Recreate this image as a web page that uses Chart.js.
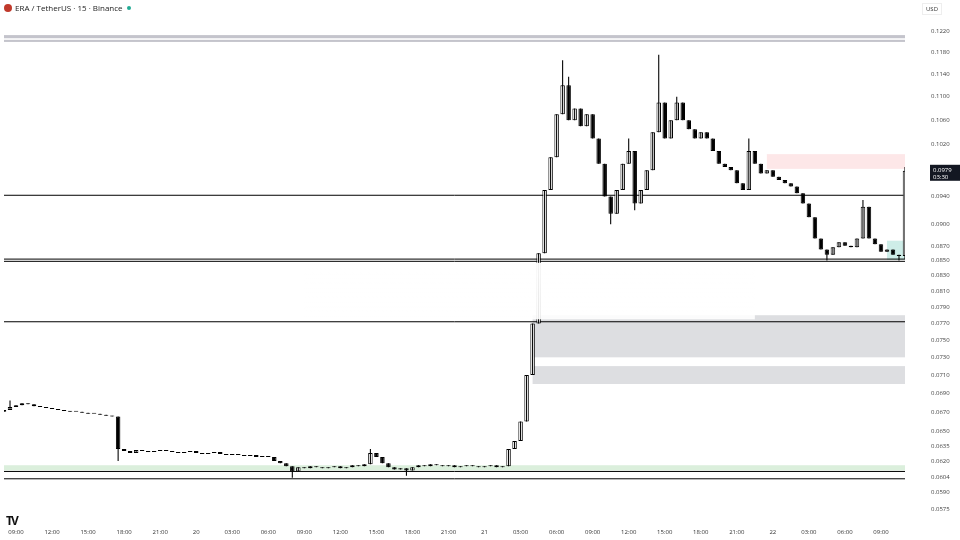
<!DOCTYPE html>
<html>
<head>
<meta charset="utf-8">
<script src="https://cdn.jsdelivr.net/npm/chart.js@4"></script>
<style>
  body { margin: 0; background: #fff; font-family: "Open Sans", sans-serif; }
  #wrap { position: relative; width: 960px; height: 540px; }
  #title { position: absolute; left: 4px; top: 2px; font-size: 8px; color: #222; }
  #title span.dot { display: inline-block; width: 8px; height: 8px; border-radius: 4px; background: #c0392b; vertical-align: -1px; margin-right: 3px; }
  #title span.live { display: inline-block; width: 4px; height: 4px; border-radius: 2px; background: #22ab94; margin-left: 4px; vertical-align: 1px; }
  #usd { position: absolute; right: 18px; top: 3px; font-size: 6px; color: #333; border: 1px solid #eee; padding: 1px 3px; }
  #logo { position: absolute; left: 6px; top: 512px; font-size: 12px; font-weight: bold; color: #111; letter-spacing: -2px; }
</style>
</head>
<body>
<div id="wrap">
  <canvas id="myChart" width="960" height="540"></canvas>
  <div id="title"><span class="dot"></span>ERA / TetherUS · 15 · Binance<span class="live"></span></div>
  <div id="usd">USD</div>
  <div id="logo">TV</div>
</div>
<script>
// 30-minute candles, close prices
const closes = [
  0.0672,0.0675,0.0677,0.0679,0.0678,0.0676,0.0675,0.0674,0.0673,0.0672,0.0671,0.0670,0.0670,0.0669,0.0668,0.0668,0.0667,0.0666,0.0665,
  0.0632,
  0.0630,0.0628,0.0631,0.0630,0.0629,0.0630,0.0631,0.0630,0.0629,0.0628,0.0629,0.0630,0.0628,0.0627,0.0628,0.0629,0.0627,0.0626,0.0627,0.0626,0.0625,0.0626,0.0624,0.0625,0.0624,
  0.0620,0.0618,0.0615,0.0610,
  0.0614,0.0613,0.0615,0.0614,0.0613,0.0614,0.0615,0.0613,0.0614,0.0616,0.0615,0.0617,
  0.0628,0.0624,0.0618,
  0.0614,0.0612,0.0613,0.0611,0.0614,0.0616,0.0615,0.0617,0.0616,0.0615,0.0616,0.0614,0.0615,0.0616,0.0615,0.0614,0.0615,0.0616,0.0614,0.0615,
  0.0632,0.0640,0.0660,0.0710,0.0770,0.0860,0.0950,0.1000,0.1070,0.1120,
  0.1060,0.1080,0.1050,0.1070,0.1030,0.0990,0.0940,0.0915,0.0950,0.0990,
  0.1010,0.0930,0.0950,0.0980,0.1040,0.1090,0.1030,0.1060,0.1090,0.1060,
  0.1045,0.1030,0.1040,0.1030,0.1010,0.0990,0.0985,0.0980,0.0960,0.0950,
  0.1010,0.0990,0.0975,0.0980,0.0970,0.0965,0.0960,0.0955,0.0945,0.0930,
  0.0910,0.0880,0.0865,0.0858,0.0868,0.0875,0.0870,0.0868,0.0880,0.0925,
  0.0880,0.0872,0.0862,0.0865,0.0858,0.0856,0.0979
];
const firstOpen = 0.0670;
// notable wick extremes by candle index
const wickHighs = { 1: 0.0682, 19: 0.0665, 61: 0.0632, 93: 0.1165, 94: 0.1135, 104: 0.1030, 109: 0.1175, 112: 0.1100, 124: 0.1030, 143: 0.0935, 150: 0.0985 };
const wickLows = { 19: 0.0620, 48: 0.0604, 67: 0.0606, 101: 0.0900, 105: 0.0920, 137: 0.0850, 149: 0.0850, 150: 0.0852 };
const tickLabels = { 2:'09:00', 8:'12:00', 14:'15:00', 20:'18:00', 26:'21:00', 32:'20', 38:'03:00', 44:'06:00',
  50:'09:00', 56:'12:00', 62:'15:00', 68:'18:00', 74:'21:00', 80:'21', 86:'03:00', 92:'06:00', 98:'09:00',
  104:'12:00', 110:'15:00', 116:'18:00', 122:'21:00', 128:'22', 134:'03:00', 140:'06:00', 146:'09:00' };
const priceTicks = [0.0575,0.0590,0.0604,0.0620,0.0635,0.0650,0.0670,0.0690,0.0710,0.0730,0.0750,0.0770,0.0790,0.0810,
  0.0830,0.0850,0.0870,0.0900,0.0940,0.1020,0.1060,0.1100,0.1140,0.1180,0.1220];
const lastPrice = 0.0979;

const labels = closes.map((c, i) => i);
const opens = closes.map((c, i) => i === 0 ? firstOpen : closes[i - 1]);
const bodies = closes.map((c, i) => [opens[i], c]);
const wicks = closes.map((c, i) => [
  wickLows[i] ?? Math.min(opens[i], c), wickHighs[i] ?? Math.max(opens[i], c)
]);
const bodyColors = closes.map((c, i) => c >= opens[i] ? '#ffffff' : '#000000');

const overlay = {
  id: 'overlay',
  beforeDatasetsDraw(chart) {
    const { ctx, chartArea: a, scales: { x, y } } = chart;
    const px = v => x.getPixelForValue(v);
    const py = v => y.getPixelForValue(v);
    const box = (x0, x1, p0, p1, col) => { ctx.fillStyle = col; ctx.fillRect(x0, py(p0), x1 - x0, py(p1) - py(p0)); };
    ctx.save();
    box(a.left, a.right, 0.1212, 0.1206, '#c4c4cc');
    box(a.left, a.right, 0.1203, 0.1199, '#c4c4cc');
    box(px(127), a.right, 0.1005, 0.0982, 'rgba(242,54,69,0.12)');
    box(px(147), a.right, 0.0877, 0.0851, 'rgba(34,171,148,0.22)');
    box(px(88), a.right, 0.0780, 0.0730, 'rgba(120,123,134,0.25)');
    box(px(88), a.right, 0.0720, 0.0700, 'rgba(120,123,134,0.25)');
    box(a.left, a.right, 0.0616, 0.0611, 'rgba(76,175,80,0.2)');
    const hline = (p, x0, x1) => { ctx.strokeStyle = '#000'; ctx.lineWidth = 1; ctx.beginPath(); ctx.moveTo(x0, py(p)); ctx.lineTo(x1, py(p)); ctx.stroke(); };
    hline(0.0942, a.left, a.right);
    hline(0.0852, a.left, a.right);
    hline(0.0849, a.left, a.right);
    hline(0.0772, a.left, a.right);
    hline(0.0610, a.left, a.right);
    hline(0.0603, a.left, a.right);
    ctx.restore();
  },
  afterDatasetsDraw(chart) {
    const { ctx, chartArea: a, scales: { x, y } } = chart;
    ctx.save();
    // faded stitch band from the screenshot
    const g = ctx.createLinearGradient(0, y.getPixelForValue(0.0847), 0, y.getPixelForValue(0.0775));
    g.addColorStop(0, 'rgba(255,255,255,0.95)');
    g.addColorStop(1, 'rgba(255,255,255,0.9)');
    ctx.fillStyle = g;
    ctx.fillRect(x.getPixelForValue(50), y.getPixelForValue(0.0847), x.getPixelForValue(125) - x.getPixelForValue(50),
      y.getPixelForValue(0.0775) - y.getPixelForValue(0.0847));
    // last price tag
    const ly = y.getPixelForValue(lastPrice);
    ctx.fillStyle = '#131722';
    ctx.fillRect(a.right + 25, ly - 6, 30, 16);
    ctx.fillStyle = '#fff';
    ctx.font = '6px "Open Sans"';
    ctx.fillText(lastPrice.toFixed(4), a.right + 28, ly + 1);
    ctx.fillText('03:30', a.right + 28, ly + 8);
    ctx.restore();
  }
};

const data = {
  labels: labels,
  datasets: [{
    label: 'wicks',
    data: wicks,
    backgroundColor: '#000',
    borderWidth: 0,
    barPercentage: 0.18,
    categoryPercentage: 1,
    grouped: false
  }, {
    label: 'bodies',
    data: bodies,
    backgroundColor: bodyColors,
    borderColor: '#000',
    borderWidth: 1,
    borderSkipped: false,
    barPercentage: 0.75,
    categoryPercentage: 1,
    grouped: false,
    minBarLength: 1
  }]
};

const config = {
  type: 'bar',
  data: data,
  options: {
    animation: false,
    responsive: false,
    layout: { padding: { top: 0, right: 0, bottom: 0, left: 0 } },
    plugins: { legend: { display: false }, tooltip: { enabled: false } },
    scales: {
      x: {
        offset: false,
        grid: { display: false },
        border: { display: false },
        ticks: {
          autoSkip: false, maxRotation: 0, color: '#333', font: { size: 6, family: 'Open Sans' }, padding: 4,
          callback: (v) => tickLabels[v] || ''
        }
      },
      y: {
        type: 'logarithmic',
        position: 'right',
        min: 0.0568,
        max: 0.1238,
        grid: { display: false },
        border: { display: false },
        afterBuildTicks: (s) => { s.ticks = priceTicks.map(v => ({ value: v })); },
        afterFit: (s) => { s.width = 55; },
        ticks: { color: '#444', font: { size: 6, family: 'Open Sans' }, padding: 18, callback: (v) => v.toFixed(4) }
      }
    }
  },
  plugins: [overlay]
};

const myChart = new Chart(document.getElementById('myChart'), config);
</script>
</body>
</html>
